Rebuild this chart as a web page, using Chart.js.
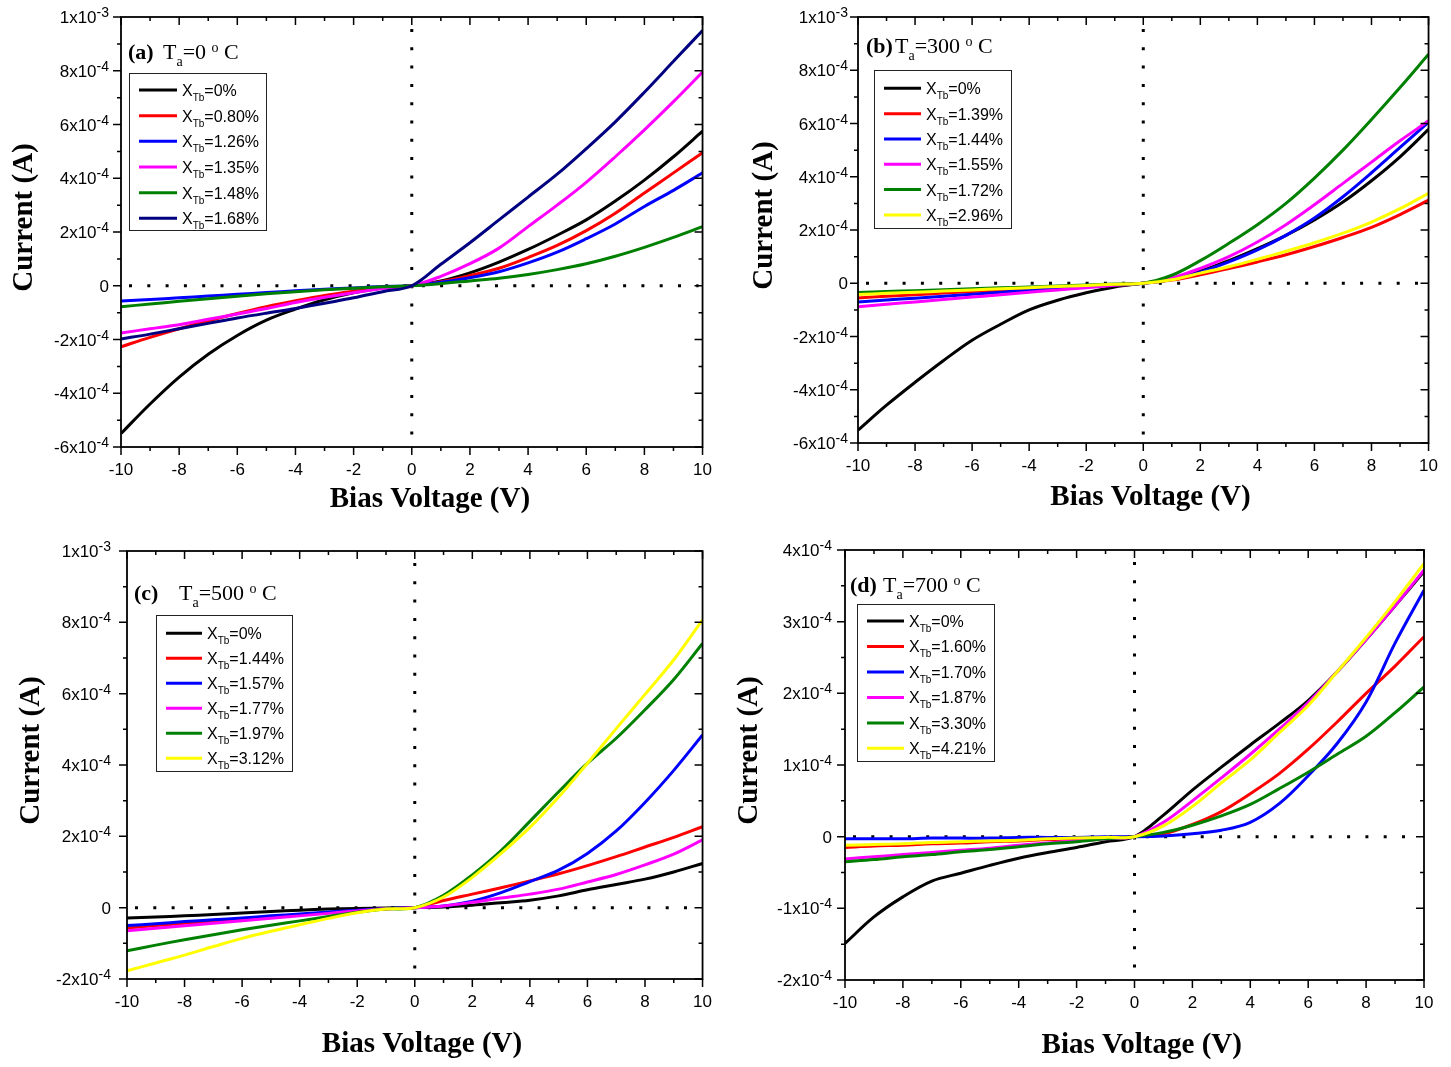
<!DOCTYPE html>
<html>
<head>
<meta charset="utf-8">
<script src="https://cdn.jsdelivr.net/npm/chart.js@4.4.1/dist/chart.umd.min.js"></script>
<style>
  body { margin: 0; background: #fff; width: 1451px; height: 1067px; position: relative; overflow: hidden; }
  canvas { position: absolute; }
</style>
</head>
<body>
<canvas id="panelA" width="725" height="530" style="left:0;top:0"></canvas>
<canvas id="panelB" width="726" height="530" style="left:725px;top:0"></canvas>
<canvas id="panelC" width="725" height="537" style="left:0;top:530px"></canvas>
<canvas id="panelD" width="726" height="537" style="left:725px;top:530px"></canvas>
<script>
// bias voltage (V), shared by all panels
const bias = [-10, -9, -8, -7, -6, -5, -4, -3, -2, -1, 0, 1, 2, 3, 4, 5, 6, 7, 8, 9, 10]

// annealing temperatures (deg C) for panels a-d
const annealTemps = [0, 300, 500, 700]

// currents below are in units of 1e-4 A

// (a) Ta = 0 C
const pctA = ['0%', '0.80%', '1.26%', '1.35%', '1.48%', '1.68%']
const currentA = [
  [-5.5, -4.4, -3.4, -2.55, -1.85, -1.28, -0.87, -0.52, -0.26, -0.08, 0, 0.18, 0.48, 0.88, 1.35, 1.88, 2.45, 3.15, 3.93, 4.8, 5.75],
  [-2.27, -1.92, -1.6, -1.3, -1.03, -0.78, -0.56, -0.36, -0.2, -0.07, 0, 0.15, 0.38, 0.65, 1.05, 1.5, 2.05, 2.7, 3.45, 4.2, 4.95],
  [-0.57, -0.51, -0.45, -0.38, -0.32, -0.25, -0.19, -0.13, -0.08, -0.03, 0, 0.13, 0.3, 0.52, 0.85, 1.25, 1.75, 2.3, 2.95, 3.55, 4.2],
  [-1.76, -1.6, -1.45, -1.25, -1.05, -0.85, -0.62, -0.43, -0.26, -0.1, 0, 0.35, 0.82, 1.4, 2.2, 3.0, 3.85, 4.8, 5.8, 6.85, 7.95],
  [-0.78, -0.68, -0.58, -0.48, -0.39, -0.3, -0.22, -0.15, -0.09, -0.04, 0, 0.08, 0.18, 0.28, 0.42, 0.6, 0.82, 1.1, 1.43, 1.8, 2.2],
  [-1.98, -1.8, -1.6, -1.4, -1.2, -1.02, -0.85, -0.65, -0.45, -0.22, 0, 0.8, 1.6, 2.45, 3.3, 4.15, 5.1, 6.1, 7.2, 8.35, 9.5]
]

// (b) Ta = 300 C
const pctB = ['0%', '1.39%', '1.44%', '1.55%', '1.72%', '2.96%']
const currentB = [
  [-5.52, -4.58, -3.72, -2.9, -2.14, -1.54, -1.0, -0.64, -0.36, -0.14, 0, 0.15, 0.45, 0.85, 1.3, 1.8, 2.38, 3.05, 3.85, 4.75, 5.78],
  [-0.55, -0.49, -0.43, -0.37, -0.31, -0.26, -0.2, -0.15, -0.1, -0.05, 0, 0.12, 0.32, 0.55, 0.8, 1.07, 1.38, 1.72, 2.1, 2.58, 3.12],
  [-0.7, -0.63, -0.56, -0.49, -0.41, -0.34, -0.27, -0.2, -0.13, -0.06, 0, 0.15, 0.42, 0.8, 1.25, 1.8, 2.45, 3.25, 4.15, 5.1, 6.05],
  [-0.88, -0.79, -0.7, -0.61, -0.52, -0.43, -0.34, -0.25, -0.17, -0.08, 0, 0.2, 0.56, 1.0, 1.55, 2.2, 2.95, 3.75, 4.55, 5.35, 6.1],
  [-0.35, -0.31, -0.28, -0.24, -0.21, -0.17, -0.14, -0.1, -0.07, -0.03, 0, 0.3, 0.85, 1.5, 2.2, 3.0, 3.95, 5.0, 6.15, 7.35, 8.6],
  [-0.42, -0.38, -0.34, -0.29, -0.25, -0.21, -0.17, -0.12, -0.08, -0.04, 0, 0.13, 0.38, 0.62, 0.9, 1.2, 1.52, 1.88, 2.3, 2.8, 3.38]
]

// (c) Ta = 500 C
const pctC = ['0%', '1.44%', '1.57%', '1.77%', '1.97%', '3.12%']
const currentC = [
  [-0.29, -0.26, -0.23, -0.19, -0.15, -0.11, -0.07, -0.04, -0.02, -0.01, 0, 0.02, 0.07, 0.14, 0.21, 0.33, 0.5, 0.65, 0.8, 1.0, 1.24],
  [-0.57, -0.5, -0.44, -0.38, -0.32, -0.26, -0.2, -0.14, -0.08, -0.03, 0, 0.2, 0.38, 0.56, 0.75, 0.95, 1.18, 1.43, 1.7, 1.97, 2.27],
  [-0.5, -0.45, -0.39, -0.34, -0.29, -0.23, -0.18, -0.12, -0.07, -0.02, 0, 0.05, 0.18, 0.42, 0.73, 1.05, 1.52, 2.15, 2.95, 3.85, 4.84],
  [-0.65, -0.58, -0.51, -0.44, -0.37, -0.3, -0.23, -0.16, -0.09, -0.03, 0, 0.05, 0.15, 0.27, 0.38, 0.52, 0.72, 0.93, 1.2, 1.5, 1.9],
  [-1.21, -1.05, -0.9, -0.76, -0.62, -0.49, -0.37, -0.25, -0.13, -0.04, 0, 0.35, 0.92, 1.6, 2.42, 3.25, 4.05, 4.75, 5.55, 6.4, 7.41],
  [-1.77, -1.55, -1.33, -1.09, -0.86, -0.66, -0.48, -0.3, -0.14, -0.04, 0, 0.3, 0.85, 1.52, 2.25, 3.1, 4.05, 5.02, 5.98, 6.95, 8.07]
]

// (d) Ta = 700 C
const pctD = ['0%', '1.60%', '1.70%', '1.87%', '3.30%', '4.21%']
const currentD = [
  [-1.49, -1.12, -0.84, -0.62, -0.51, -0.4, -0.3, -0.22, -0.15, -0.07, 0, 0.3, 0.65, 0.97, 1.28, 1.58, 1.9, 2.3, 2.75, 3.22, 3.7],
  [-0.15, -0.13, -0.12, -0.1, -0.09, -0.07, -0.06, -0.04, -0.03, -0.01, 0, 0.04, 0.17, 0.35, 0.6, 0.88, 1.22, 1.6, 2.0, 2.38, 2.79],
  [-0.03, -0.03, -0.03, -0.02, -0.02, -0.02, -0.01, -0.01, -0.01, 0, 0, 0.01, 0.04, 0.09, 0.2, 0.46, 0.85, 1.3, 1.88, 2.7, 3.44],
  [-0.31, -0.28, -0.25, -0.22, -0.19, -0.16, -0.12, -0.09, -0.06, -0.03, 0, 0.2, 0.5, 0.82, 1.15, 1.5, 1.87, 2.3, 2.75, 3.22, 3.72],
  [-0.35, -0.32, -0.28, -0.25, -0.21, -0.18, -0.14, -0.1, -0.07, -0.03, 0, 0.06, 0.16, 0.29, 0.45, 0.67, 0.9, 1.15, 1.4, 1.73, 2.09],
  [-0.12, -0.11, -0.1, -0.08, -0.07, -0.06, -0.05, -0.03, -0.02, -0.01, 0, 0.15, 0.42, 0.75, 1.07, 1.45, 1.83, 2.3, 2.78, 3.28, 3.81]
]

// y tick positions (1e-4 A) and their labels ('^' marks the superscript)
const yTicksAB = [-6, -4, -2, 0, 2, 4, 6, 8, 10]
const yLabelsAB = ['-6x10^-4', '-4x10^-4', '-2x10^-4', '0', '2x10^-4', '4x10^-4', '6x10^-4', '8x10^-4', '1x10^-3']
const yTicksC = [-2, 0, 2, 4, 6, 8, 10]
const yLabelsC = ['-2x10^-4', '0', '2x10^-4', '4x10^-4', '6x10^-4', '8x10^-4', '1x10^-3']
const yTicksD = [-2, -1, 0, 1, 2, 3, 4]
const yLabelsD = ['-2x10^-4', '-1x10^-4', '0', '1x10^-4', '2x10^-4', '3x10^-4', '4x10^-4']

const colorsMain = ['#000000', '#ff0000', '#0000ff', '#ff00ff', '#008000', '#000080']
const colorsAlt = ['#000000', '#ff0000', '#0000ff', '#ff00ff', '#008000', '#ffff00']

const SANS = "'Liberation Sans', Arial, sans-serif"
const SERIF = "'Liberation Serif', 'Times New Roman', serif"

function richText(ctx, x, y, parts) {
    for (const [t, f, dy] of parts) {
        ctx.font = f
        ctx.fillText(t, x, y + dy)
        x += ctx.measureText(t).width
    }
    return x
}

function tickParts(label) {
    const [m, e] = label.split('^')
    const out = [[m, `17px ${SANS}`, 0]]
    if (e) out.push([e, `14px ${SANS}`, -6])
    return out
}

const decor = {
    id: 'decor',
    beforeDatasetsDraw(chart, args, o) {
        const { ctx, chartArea: a, scales: { x, y } } = chart
        const x0 = x.getPixelForValue(0)
        const y0 = y.getPixelForValue(0)
        ctx.save()
        ctx.strokeStyle = '#000'
        ctx.lineWidth = 3
        ctx.setLineDash([3, 15.3])
        ctx.beginPath()
        ctx.moveTo(a.left + 8, y0)
        ctx.lineTo(a.right - 4, y0)
        ctx.moveTo(x0, a.top + 12)
        ctx.lineTo(x0, a.bottom)
        ctx.stroke()
        ctx.restore()
    },
    afterDatasetsDraw(chart, args, o) {
        const { ctx, chartArea: a, scales: { x, y } } = chart
        ctx.save()
        ctx.strokeStyle = '#000'
        ctx.lineWidth = 1.8
        ctx.strokeRect(a.left, a.top, a.right - a.left, a.bottom - a.top)

        // major ticks out on left/bottom, in on top/right; minor ticks halfway
        ctx.lineWidth = 1.5
        ctx.beginPath()
        const seg = (x1, y1, x2, y2) => { ctx.moveTo(x1, y1); ctx.lineTo(x2, y2) }
        const xt = x.ticks.map(t => t.value)
        xt.forEach((v, i) => {
            const p = x.getPixelForValue(v)
            seg(p, a.bottom, p, a.bottom + 8)
            seg(p, a.top, p, a.top + 8)
            if (i < xt.length - 1) {
                const m = x.getPixelForValue((v + xt[i + 1]) / 2)
                seg(m, a.bottom, m, a.bottom + 4)
                seg(m, a.top, m, a.top + 4)
            }
        })
        o.ticks.forEach((v, i) => {
            const p = y.getPixelForValue(v)
            seg(a.left - 8, p, a.left, p)
            seg(a.right - 8, p, a.right, p)
            if (i < o.ticks.length - 1) {
                const m = y.getPixelForValue((v + o.ticks[i + 1]) / 2)
                seg(a.left - 4, m, a.left, m)
                seg(a.right - 4, m, a.right, m)
            }
        })
        ctx.stroke()

        // y tick labels with superscript exponents
        ctx.fillStyle = '#000'
        ctx.textAlign = 'left'
        ctx.textBaseline = 'alphabetic'
        o.ticks.forEach((v, i) => {
            const parts = tickParts(o.tickLabels[i])
            let w = 0
            parts.forEach(([t, f]) => { ctx.font = f; w += ctx.measureText(t).width })
            richText(ctx, a.left - o.labelGap - w, y.getPixelForValue(v) + 6, parts)
        })

        // legend box
        const L = o.legend
        ctx.lineWidth = 1
        ctx.strokeStyle = '#222'
        ctx.strokeRect(L.x + 0.5, L.y + 0.5, L.w, L.h)
        chart.data.datasets.forEach((ds, i) => {
            const ry = L.row0 + i * L.step
            ctx.strokeStyle = ds.borderColor
            ctx.lineWidth = 3
            ctx.beginPath()
            ctx.moveTo(L.line0, ry)
            ctx.lineTo(L.line1, ry)
            ctx.stroke()
            richText(ctx, L.text, ry + 6, [
                ['X', `16px ${SANS}`, 0],
                ['Tb', `10px ${SANS}`, 5],
                [ds.label.slice(3), `16px ${SANS}`, 0]
            ])
        })

        // panel tag and annealing temperature
        const T = o.title
        ctx.font = `bold 22px ${SERIF}`
        ctx.fillText(T.tag, T.tagX, T.base)
        richText(ctx, T.tX, T.base, [
            ['T', `22px ${SERIF}`, 0],
            ['a', `14px ${SERIF}`, 7],
            ['=' + T.temp + ' ', `22px ${SERIF}`, 0],
            ['o', `14px ${SERIF}`, -7],
            [' C', `22px ${SERIF}`, 0]
        ])
        ctx.restore()
    }
}

function makePanel(id, cfg) {
    const datasets = cfg.current.map((vals, i) => ({
        label: 'XTb=' + cfg.pct[i],
        data: bias.map((v, k) => ({ x: v, y: vals[k] })),
        borderColor: cfg.colors[i],
        backgroundColor: cfg.colors[i],
        borderWidth: 3,
        pointRadius: 0,
        tension: 0.35,
        order: -i
    }))
    return new Chart(document.getElementById(id), {
        type: 'line',
        data: { datasets },
        options: {
            responsive: false,
            animation: false,
            devicePixelRatio: 1,
            layout: { padding: { left: 0, top: cfg.top, right: cfg.right, bottom: 0 } },
            plugins: {
                legend: { display: false },
                tooltip: { enabled: false },
                decor: {
                    ticks: cfg.yTicks,
                    tickLabels: cfg.yLabels,
                    labelGap: cfg.labelGap,
                    legend: cfg.legend,
                    title: cfg.title
                }
            },
            scales: {
                x: {
                    type: 'linear',
                    min: -10,
                    max: 10,
                    grid: { display: false, drawTicks: false },
                    border: { display: false },
                    ticks: { stepSize: 2, padding: 13, maxRotation: 0, color: '#000', font: { family: SANS, size: 17 } },
                    title: {
                        display: true,
                        // leading spaces nudge the centred title to the right, as in the original
                        text: ' '.repeat(cfg.xTitleShift) + 'Bias Voltage (V)',
                        color: '#000',
                        font: { family: SERIF, size: 29, weight: 'bold' },
                        padding: { top: 0, bottom: cfg.xTitlePad }
                    },
                    afterFit: s => { s.height = cfg.xHeight }
                },
                y: {
                    type: 'linear',
                    min: cfg.yMin,
                    max: cfg.yMax,
                    grid: { display: false, drawTicks: false },
                    border: { display: false },
                    ticks: { display: false },
                    title: {
                        display: true,
                        // leading spaces lift the rotated title a little above centre
                        text: '    Current (A)',
                        color: '#000',
                        font: { family: SERIF, size: 29, weight: 'bold' },
                        padding: { top: cfg.yTitlePad, bottom: 0 }
                    },
                    afterFit: s => { s.width = cfg.yWidth }
                }
            }
        },
        plugins: [decor]
    })
}

makePanel('panelA', {
    current: currentA, pct: pctA, colors: colorsMain,
    yMin: -6, yMax: 10, yTicks: yTicksAB, yLabels: yLabelsAB,
    top: 17, right: 21, yWidth: 121, xHeight: 83, xTitlePad: 12.6, yTitlePad: 7.6, labelGap: 12, xTitleShift: 5,
    legend: { x: 129, y: 73, w: 137, h: 157, row0: 90, step: 25.67, line0: 139, line1: 177, text: 182 },
    title: { tag: '(a)', tagX: 128, tX: 163, base: 59, temp: annealTemps[0] }
})

makePanel('panelB', {
    current: currentB, pct: pctB, colors: colorsAlt,
    yMin: -6, yMax: 10, yTicks: yTicksAB, yLabels: yLabelsAB,
    top: 17, right: 16, yWidth: 133, xHeight: 87, xTitlePad: 14.6, yTitlePad: 22.6, labelGap: 10, xTitleShift: 2,
    legend: { x: 149, y: 70, w: 137, h: 158, row0: 88.3, step: 25.33, line0: 159, line1: 196, text: 201 },
    title: { tag: '(b)', tagX: 141, tX: 170, base: 53, temp: annealTemps[1] }
})

makePanel('panelC', {
    current: currentC, pct: pctC, colors: colorsAlt,
    yMin: -2, yMax: 10, yTicks: yTicksC, yLabels: yLabelsC,
    top: 21, right: 18, yWidth: 127, xHeight: 88, xTitlePad: 4.6, yTitlePad: 14.6, labelGap: 16, xTitleShift: 2,
    legend: { x: 156, y: 85, w: 136, h: 156, row0: 103.3, step: 25, line0: 166, line1: 202, text: 207 },
    title: { tag: '(c)', tagX: 134, tX: 179, base: 70, temp: annealTemps[2] }
})

makePanel('panelD', {
    current: currentD, pct: pctD, colors: colorsAlt,
    yMin: -2, yMax: 4, yTicks: yTicksD, yLabels: yLabelsD,
    top: 20, right: 27, yWidth: 120, xHeight: 87, xTitlePad: 3.6, yTitlePad: 7.6, labelGap: 13, xTitleShift: 2,
    legend: { x: 132, y: 74, w: 137, h: 157, row0: 91, step: 25.47, line0: 142, line1: 179, text: 184 },
    title: { tag: '(d)', tagX: 125, tX: 158, base: 62, temp: annealTemps[3] }
})
</script>
</body>
</html>
